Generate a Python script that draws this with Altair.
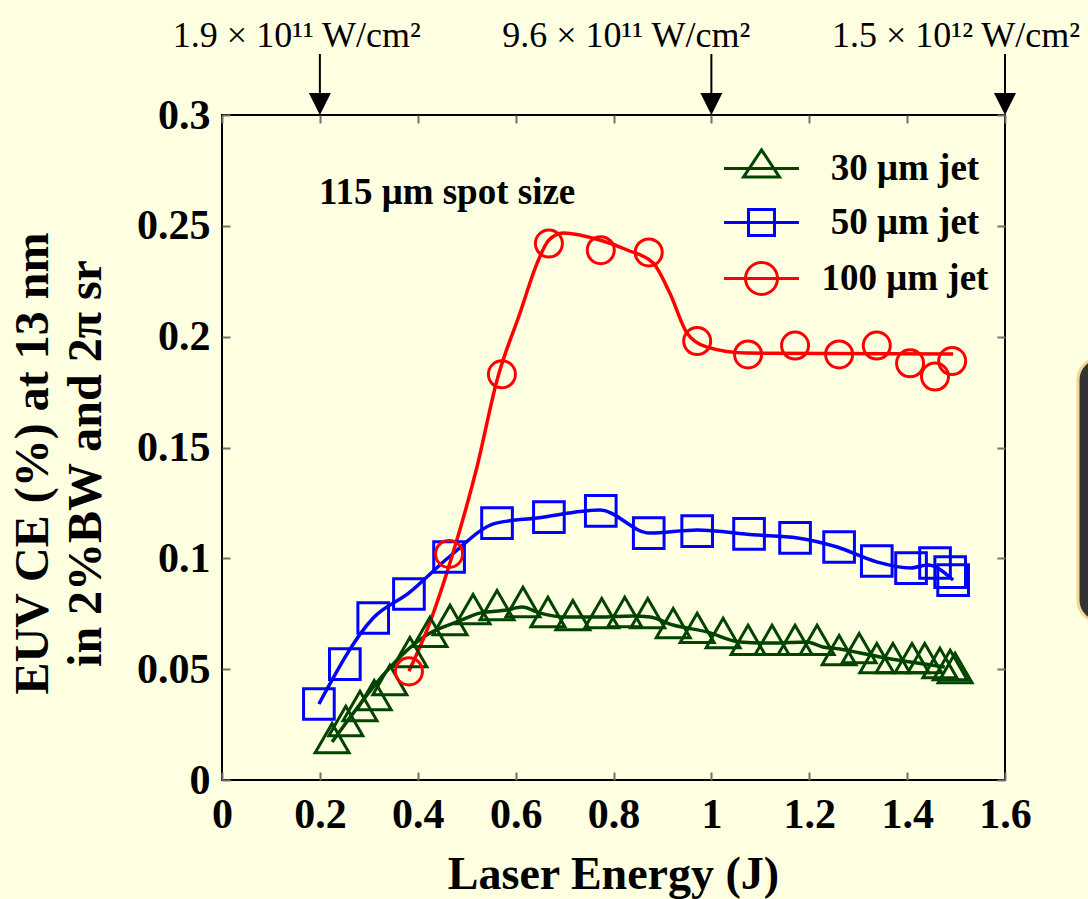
import altair as alt
import pandas as pd

FONT = "Liberation Serif"

# ---------------- data ----------------
series_names = ["30 μm jet", "50 μm jet", "100 μm jet"]
series_colors = ["#004400", "#0000ff", "#ff0000"]

# 30 um jet (triangles)
tri_x = [0.225, 0.253, 0.282, 0.311, 0.343, 0.384, 0.425, 0.466, 0.513, 0.562, 0.615,
         0.666, 0.717, 0.776, 0.823, 0.870, 0.922, 0.971, 1.024, 1.075, 1.124, 1.171,
         1.216, 1.261, 1.302, 1.338, 1.371, 1.410, 1.436, 1.467, 1.488, 1.498]
tri_y = [0.0189, 0.0266, 0.0334, 0.0383, 0.0451, 0.0577, 0.0668, 0.0722, 0.0771, 0.0789, 0.0803,
         0.0758, 0.0744, 0.0753, 0.0758, 0.0753, 0.0708, 0.0686, 0.0663, 0.0632, 0.0632, 0.0632,
         0.0632, 0.0586, 0.0595, 0.0550, 0.0550, 0.0550, 0.0550, 0.0528, 0.0519, 0.0505]
# fitted curve for 30 um jet
tri_fit_x = [0.225, 0.429, 0.480, 0.527, 0.582, 0.613, 0.650, 0.705, 0.772, 0.840, 0.875,
             0.922, 0.991, 1.058, 1.126, 1.195, 1.228, 1.263, 1.304, 1.345, 1.477]
tri_fit_y = [0.0171, 0.0668, 0.0713, 0.0753, 0.0767, 0.0780, 0.0753, 0.0735, 0.0735, 0.0740, 0.0735,
             0.0699, 0.0668, 0.0623, 0.0618, 0.0623, 0.0600, 0.0591, 0.0573, 0.0555, 0.0510]

# 50 um jet (squares)
sq_x = [0.198, 0.251, 0.309, 0.382, 0.464, 0.562, 0.668, 0.774, 0.872, 0.971, 1.077,
        1.171, 1.261, 1.338, 1.408, 1.457, 1.488, 1.494]
sq_y = [0.0343, 0.0523, 0.0731, 0.0839, 0.1006, 0.1159, 0.1186, 0.1214, 0.1114, 0.1123, 0.1110,
        0.1092, 0.1051, 0.0988, 0.0956, 0.0979, 0.0938, 0.0902]
sq_fit_x = [0.198, 0.309, 0.382, 0.464, 0.560, 0.644, 0.772, 0.874, 0.971, 1.086,
            1.176, 1.257, 1.339, 1.407, 1.442, 1.494]
sq_fit_y = [0.0343, 0.0731, 0.0844, 0.1006, 0.1159, 0.1182, 0.1218, 0.1114, 0.1128, 0.1106,
            0.1092, 0.1051, 0.0983, 0.0956, 0.0970, 0.0902]

# 100 um jet (circles)
circ_x = [0.382, 0.464, 0.572, 0.668, 0.774, 0.872, 0.971, 1.075, 1.171, 1.261, 1.338,
          1.406, 1.457, 1.492]
circ_y = [0.049, 0.102, 0.183, 0.242, 0.239, 0.238, 0.198, 0.192, 0.196, 0.192, 0.196,
          0.188, 0.182, 0.189]
circ_fit_x = [0.382, 0.419, 0.472, 0.521, 0.562, 0.609, 0.644, 0.668, 0.697, 0.772, 0.828,
              0.881, 0.915, 0.950, 0.991, 1.073, 1.494]
circ_fit_y = [0.0491, 0.0677, 0.1024, 0.1412, 0.1804, 0.2107, 0.2332, 0.2436, 0.2468, 0.2436, 0.2391,
              0.2332, 0.2197, 0.2017, 0.1953, 0.1926, 0.1922]

x_ticks = [0, 0.2, 0.4, 0.6, 0.8, 1.0, 1.2, 1.4, 1.6]
y_ticks = [0, 0.05, 0.1, 0.15, 0.2, 0.25, 0.3]

arrow_x = [0.2, 1.0, 1.6]
ann_x = [0.153, 0.826, 1.50]
ann_text = ["1.9 × 10¹¹ W/cm²", "9.6 × 10¹¹ W/cm²", "1.5 × 10¹² W/cm²"]

spot_x = [0.46]
spot_y = [0.265]
spot_text = ["115 μm spot size"]

# ---------------- tables ----------------
def frame(xs, ys, name):
    return pd.DataFrame({"x": xs, "y": ys, "series": name, "i": list(range(len(xs)))})

markers = pd.concat([frame(tri_x, tri_y, series_names[0]),
                     frame(sq_x, sq_y, series_names[1]),
                     frame(circ_x, circ_y, series_names[2])], ignore_index=True)
fits = pd.concat([frame(tri_fit_x, tri_fit_y, series_names[0]),
                  frame(sq_fit_x, sq_fit_y, series_names[1]),
                  frame(circ_fit_x, circ_fit_y, series_names[2])], ignore_index=True)
legend_df = pd.DataFrame({"x": [-1.0] * 3, "y": [-1.0] * 3, "series": series_names})
arrows_df = pd.DataFrame({"x": arrow_x})
ann_df = pd.DataFrame({"x": ann_x, "t": ann_text})
spot_df = pd.DataFrame({"x": spot_x, "y": spot_y, "t": spot_text})

# ---------------- scales / axes ----------------
xs = alt.Scale(domain=[0, 1.6], nice=False, zero=False)
ys = alt.Scale(domain=[0, 0.3], nice=False, zero=False)
color_scale = alt.Scale(domain=series_names, range=series_colors)

tick_style = dict(domain=False, ticks=True, tickSize=8, tickColor="#707070", tickWidth=2,
                  grid=False, offset=-8)

bottom_axis = alt.Axis(orient="bottom", values=x_ticks, format="~g",
                       labelFont=FONT, labelFontSize=42, labelFontWeight="bold", labelColor="black",
                       labelPadding=14, labelFlush=False, labelOverlap=False, labelBound=False,
                       title="Laser Energy (J)", titleFont=FONT, titleFontSize=46,
                       titleFontWeight="bold", titleColor="black", titleBaseline="alphabetic",
                       titleY=116, titleX=391, **tick_style)
left_axis = alt.Axis(orient="left", values=y_ticks, format="~g",
                     labelFont=FONT, labelFontSize=42, labelFontWeight="bold", labelColor="black",
                     labelPadding=12, labelFlush=False, labelOverlap=False, labelBound=False,
                     title=["EUV CE (%) at 13 nm", "in 2%BW and 2π sr"], titleFont=FONT,
                     titleFontSize=48, titleFontWeight="bold", titleColor="black",
                     titleAngle=270, titleAlign="center", titleBaseline="alphabetic",
                     titleLineHeight=53, titleX=-183, titleY=348, **tick_style)
top_axis = alt.Axis(orient="top", values=x_ticks, labels=False, title="", **tick_style)
right_axis = alt.Axis(orient="right", values=y_ticks, labels=False, title="", **tick_style)

legend_paths = [
    "M-1.875,0L1.875,0M0,-0.93L0.9,0.43L-0.9,0.43Z",
    "M-1.875,0L1.875,0M-0.65,-0.65L0.65,-0.65L0.65,0.65L-0.65,0.65Z",
    "M-1.875,0L1.875,0M-0.8,0A0.8,0.8,0,1,0,0.8,0A0.8,0.8,0,1,0,-0.8,0Z",
]
legend_def = alt.Legend(orient="none", legendX=518, legendY=32, title=None,
                        symbolSize=1600, symbolStrokeWidth=3,
                        labelFont=FONT, labelFontSize=37, labelFontWeight="bold",
                        labelColor="black", labelAlign="center", labelOffset=122, labelLimit=0,
                        rowPadding=14, padding=0)

# ---------------- layers ----------------
overlay = alt.Chart(pd.DataFrame({"k": [0]})).mark_rect(
    fill="#333333", stroke="#F0D890", strokeWidth=3, cornerRadius=22
).encode(x=alt.value(856), x2=alt.value(900), y=alt.value(243), y2=alt.value(507))

lines = alt.Chart(fits).mark_line(interpolate="monotone", strokeWidth=3.5).encode(
    x=alt.X("x:Q", scale=xs, axis=bottom_axis),
    y=alt.Y("y:Q", scale=ys, axis=left_axis),
    color=alt.Color("series:N", scale=color_scale, legend=None),
    order=alt.Order("i:Q"),
)

points = alt.Chart(markers).mark_point(filled=False, strokeWidth=3, opacity=1).encode(
    x=alt.X("x:Q", scale=xs, axis=None),
    y=alt.Y("y:Q", scale=ys, axis=None),
    color=alt.Color("series:N", scale=color_scale, legend=None),
    shape=alt.Shape("series:N", scale=alt.Scale(domain=series_names,
                                                range=["triangle-up", "square", "circle"]),
                    legend=None),
    size=alt.Size("series:N", scale=alt.Scale(domain=series_names, range=[1150, 730, 900]),
                  legend=None),
)

legend_layer = alt.Chart(legend_df).mark_point(filled=False, strokeWidth=3, opacity=1,
                                               clip=True).encode(
    x=alt.X("x:Q", scale=xs, axis=top_axis),
    y=alt.Y("y:Q", scale=ys, axis=right_axis),
    color=alt.Color("series:N", scale=color_scale, legend=legend_def),
    shape=alt.Shape("series:N", scale=alt.Scale(domain=series_names, range=legend_paths),
                    legend=legend_def),
)

spot = alt.Chart(spot_df).mark_text(font=FONT, fontSize=37, fontWeight="bold", color="black",
                                    align="center", baseline="middle").encode(
    x=alt.X("x:Q", scale=xs, axis=None),
    y=alt.Y("y:Q", scale=ys, axis=None),
    text="t:N",
)

shafts = alt.Chart(arrows_df).mark_rule(color="black", strokeWidth=2).encode(
    x=alt.X("x:Q", scale=xs, axis=None), y=alt.value(-61), y2=alt.value(-18))
heads = alt.Chart(arrows_df).mark_point(shape="M-1,-1L1,-1L0,1Z", filled=True, color="black",
                                        size=484, opacity=1).encode(
    x=alt.X("x:Q", scale=xs, axis=None), y=alt.value(-11))
anns = alt.Chart(ann_df).mark_text(font=FONT, fontSize=36, color="black", align="center",
                                   baseline="alphabetic").encode(
    x=alt.X("x:Q", scale=xs, axis=None), y=alt.value(-68), text="t:N")

chart = alt.layer(overlay, lines, points, legend_layer, spot, shafts, heads, anns).resolve_scale(
    color="independent", shape="independent"
).properties(
    width=783, height=665,
    autosize=alt.AutoSizeParams(type="none"),
    padding={"left": 222, "top": 115, "right": 83, "bottom": 119},
    background="#FFFFE1",
).configure_view(stroke="black", strokeWidth=2)

chart.save("out.html", embed_options={"renderer": "svg", "actions": False})
